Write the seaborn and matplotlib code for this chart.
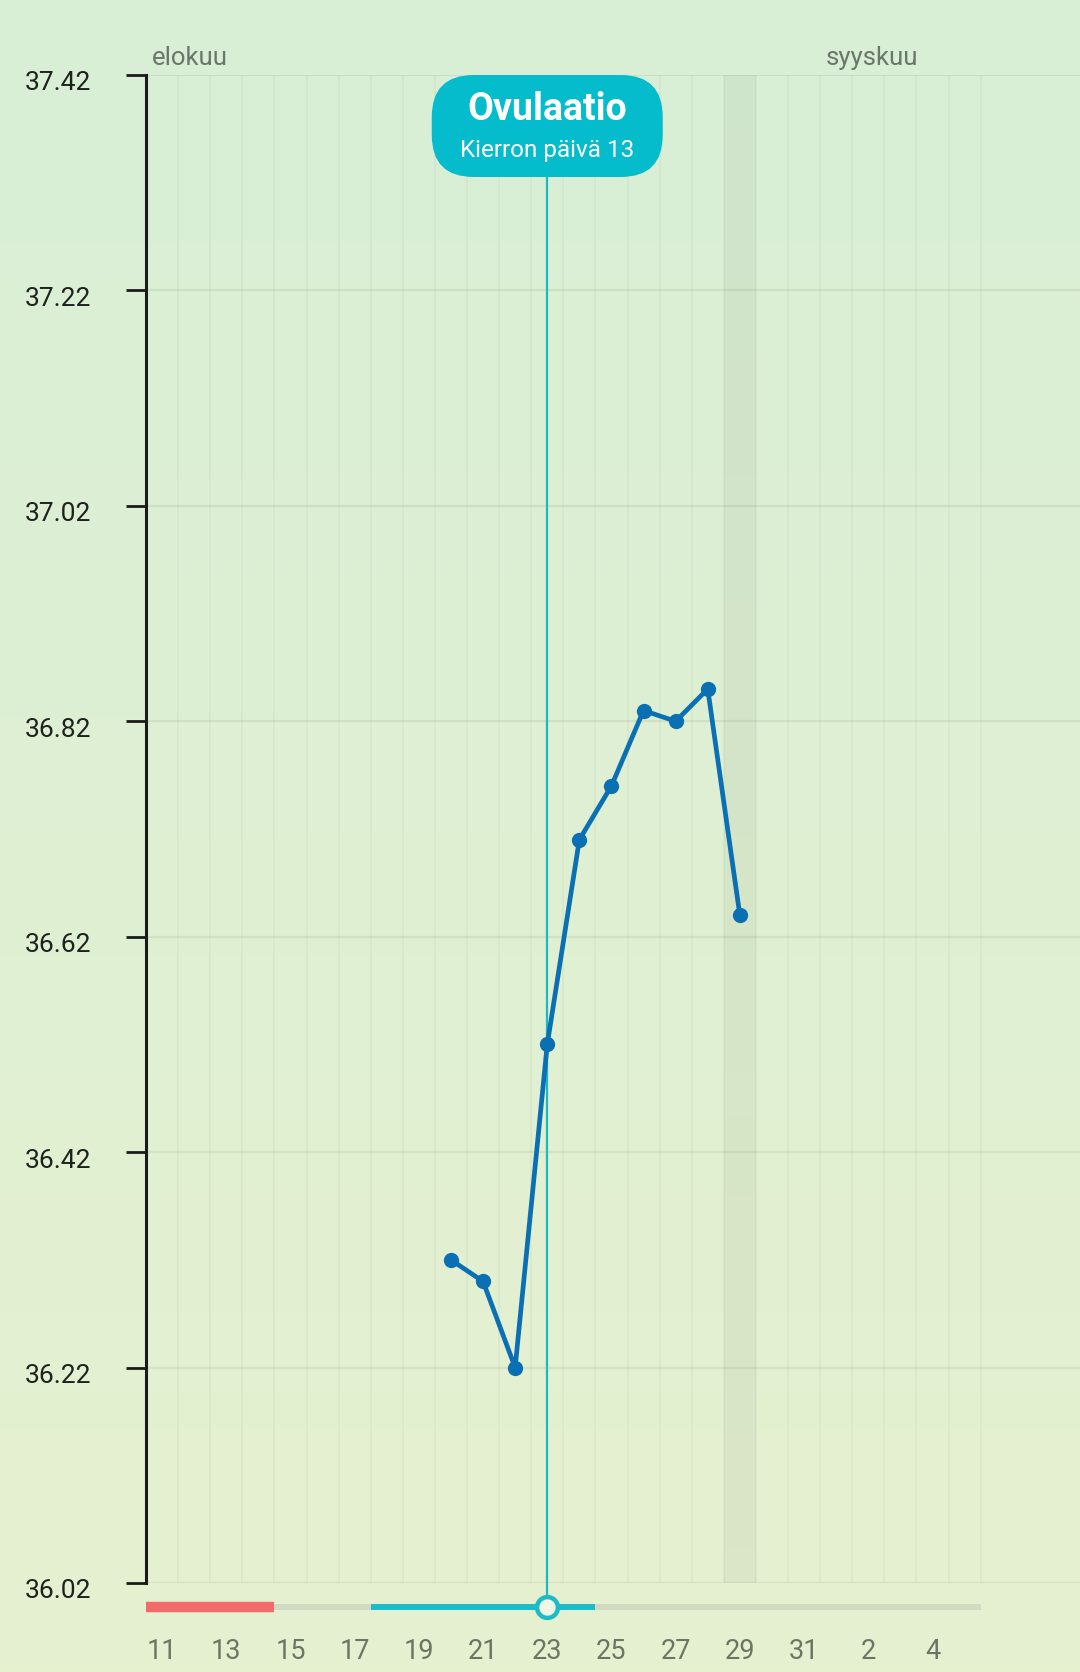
import numpy as np
import matplotlib
matplotlib.use("Agg")
import matplotlib.pyplot as plt
import matplotlib.transforms as mtransforms
from matplotlib.patches import FancyBboxPatch
import seaborn as sns

# data (day of month, August unless noted)
first_day = 11
n_days = 26
tick_pos = list(range(0, 25, 2))
tick_labels = ["11", "13", "15", "17", "19", "21", "23", "25", "27", "29", "31", "2", "4"]
temp_days = [20, 21, 22, 23, 24, 25, 26, 27, 28, 29]
temps = [36.32, 36.30, 36.22, 36.52, 36.71, 36.76, 36.83, 36.82, 36.85, 36.64]
yticks = [36.02, 36.22, 36.42, 36.62, 36.82, 37.02, 37.22, 37.42]
period = (11, 14)
fertile = (18, 24)
ovulation_day = 23
cycle_day = 13
today = 29
months = [("elokuu", 11), ("syyskuu", 32)]

sns.set_style("white")
plt.rcParams["font.family"] = ["Roboto", "DejaVu Sans"]

W, H = 1080, 1672
fig = plt.figure(figsize=(W / 100, H / 100), dpi=100)

# background gradient
bg = fig.add_axes([0, 0, 1, 1], zorder=-10)
top = np.array([216, 239, 214]) / 255
bot = np.array([230, 241, 208]) / 255
t = np.linspace(0, 1, 256)[:, None]
grad = (top * (1 - t) + bot * t)[:, None, :]
bg.imshow(grad, aspect="auto", extent=[0, 1, 0, 1])
bg.axis("off")

left, right = 146, W
ax_top, ax_bot = 75, 1583
ax = fig.add_axes([left / W, (H - ax_bot) / H, (right - left) / W, (ax_bot - ax_top) / H])
ax.patch.set_alpha(0)
col_w = 32.1
xmax = -0.5 + (right - left) / col_w
ax.set_xlim(-0.5, xmax)
ax.set_ylim(36.02, 37.42)

for k in range(1, n_days + 1):
    ax.axvline(k - 0.5, color=(0, 0, 0, 0.032), lw=1.4, zorder=0)
for v in yticks:
    ax.axhline(v, color=(0, 0, 0, 0.06), lw=1.6, zorder=0)
ax.axvspan(today - first_day - 0.5, today - first_day + 0.5, color=(0, 0, 0, 0.045), lw=0, zorder=0)

ovx = ovulation_day - first_day
box_bottom_frac = (ax_bot - 177) / (ax_bot - ax_top)
ax.axvline(ovx, ymin=0, ymax=box_bottom_frac, color="#1CB9C2", lw=1.6, zorder=1)

x = [d - first_day for d in temp_days]
sns.lineplot(x=x, y=temps, ax=ax, color="#0A70B3", lw=3.4, marker="o",
             markersize=11, markeredgewidth=0, zorder=3)

for s in ["top", "right", "bottom"]:
    ax.spines[s].set_visible(False)
ax.spines["left"].set_color("#1a1c1a")
ax.spines["left"].set_linewidth(2.2)
ax.set_xticks([])
ax.set_yticks(yticks)
ax.set_yticklabels([f"{v:.2f}" for v in yticks])
ax.tick_params(axis="y", left=True, length=14.5, width=2.0, color="#1a1c1a", pad=25,
               labelsize=19, labelcolor="#1e211e")
off = mtransforms.ScaledTranslation(0, -6 / 100, fig.dpi_scale_trans)
for lab in ax.get_yticklabels():
    lab.set_transform(lab.get_transform() + off)

for name, d in months:
    ax.annotate(name, xy=(d - first_day - 0.5, 1), xycoords=("data", "axes fraction"),
                xytext=(4, 7.5), textcoords="offset points", ha="left", va="baseline",
                fontsize=18.5, color="#6b776a", annotation_clip=False)

# bottom strip
ax2 = fig.add_axes([left / W, (H - 1631) / H, (right - left) / W, (1631 - ax_bot) / H])
ax2.patch.set_alpha(0)
ax2.set_xlim(-0.5, xmax)
ax2.set_ylim(-1, 1)
for s in ax2.spines.values():
    s.set_visible(False)
ax2.set_yticks([])
ax2.plot([-0.5, n_days - 0.5], [0, 0], color="#d2dbc2", lw=4.3, solid_capstyle="butt")
ax2.plot([period[0] - first_day - 0.5, period[1] - first_day + 0.5], [0, 0],
         color="#f26a6a", lw=7.5, solid_capstyle="butt")
ax2.plot([fertile[0] - first_day - 0.5, fertile[1] - first_day + 0.5], [0, 0],
         color="#1bbcc7", lw=4.3, solid_capstyle="butt")
ax2.axvline(ovx, ymin=0.5, ymax=1, color="#1CB9C2", lw=1.6)
ax2.plot([ovx], [0], marker="o", markersize=15, markerfacecolor="#eef6e6",
         markeredgecolor="#1bbcc7", markeredgewidth=3.2, zorder=5)
ax2.set_xticks(tick_pos)
ax2.set_xticklabels(tick_labels)
ax2.tick_params(axis="x", length=0, pad=5, labelsize=19.5, labelcolor="#6c7564")

# ovulation callout
px = mtransforms.Affine2D().scale(1 / W, 1 / H) + fig.transFigure
cx = left + (ovx + 0.5) * col_w
bw, bh = 231, 102
box = FancyBboxPatch((cx - bw / 2, H - 177), bw, bh,
                     boxstyle="round,pad=0,rounding_size=42",
                     transform=px, facecolor="#04bccb", edgecolor="none", zorder=20)
fig.add_artist(box)
fig.text(cx / W, (H - 109) / H, "Ovulaatio", ha="center", va="center",
         fontsize=27, fontweight="bold", color="white", zorder=21)
fig.text(cx / W, (H - 151) / H, f"Kierron päivä {cycle_day}", ha="center", va="center",
         fontsize=17.5, color="white", zorder=21)

fig.savefig("out.png", dpi=100)
